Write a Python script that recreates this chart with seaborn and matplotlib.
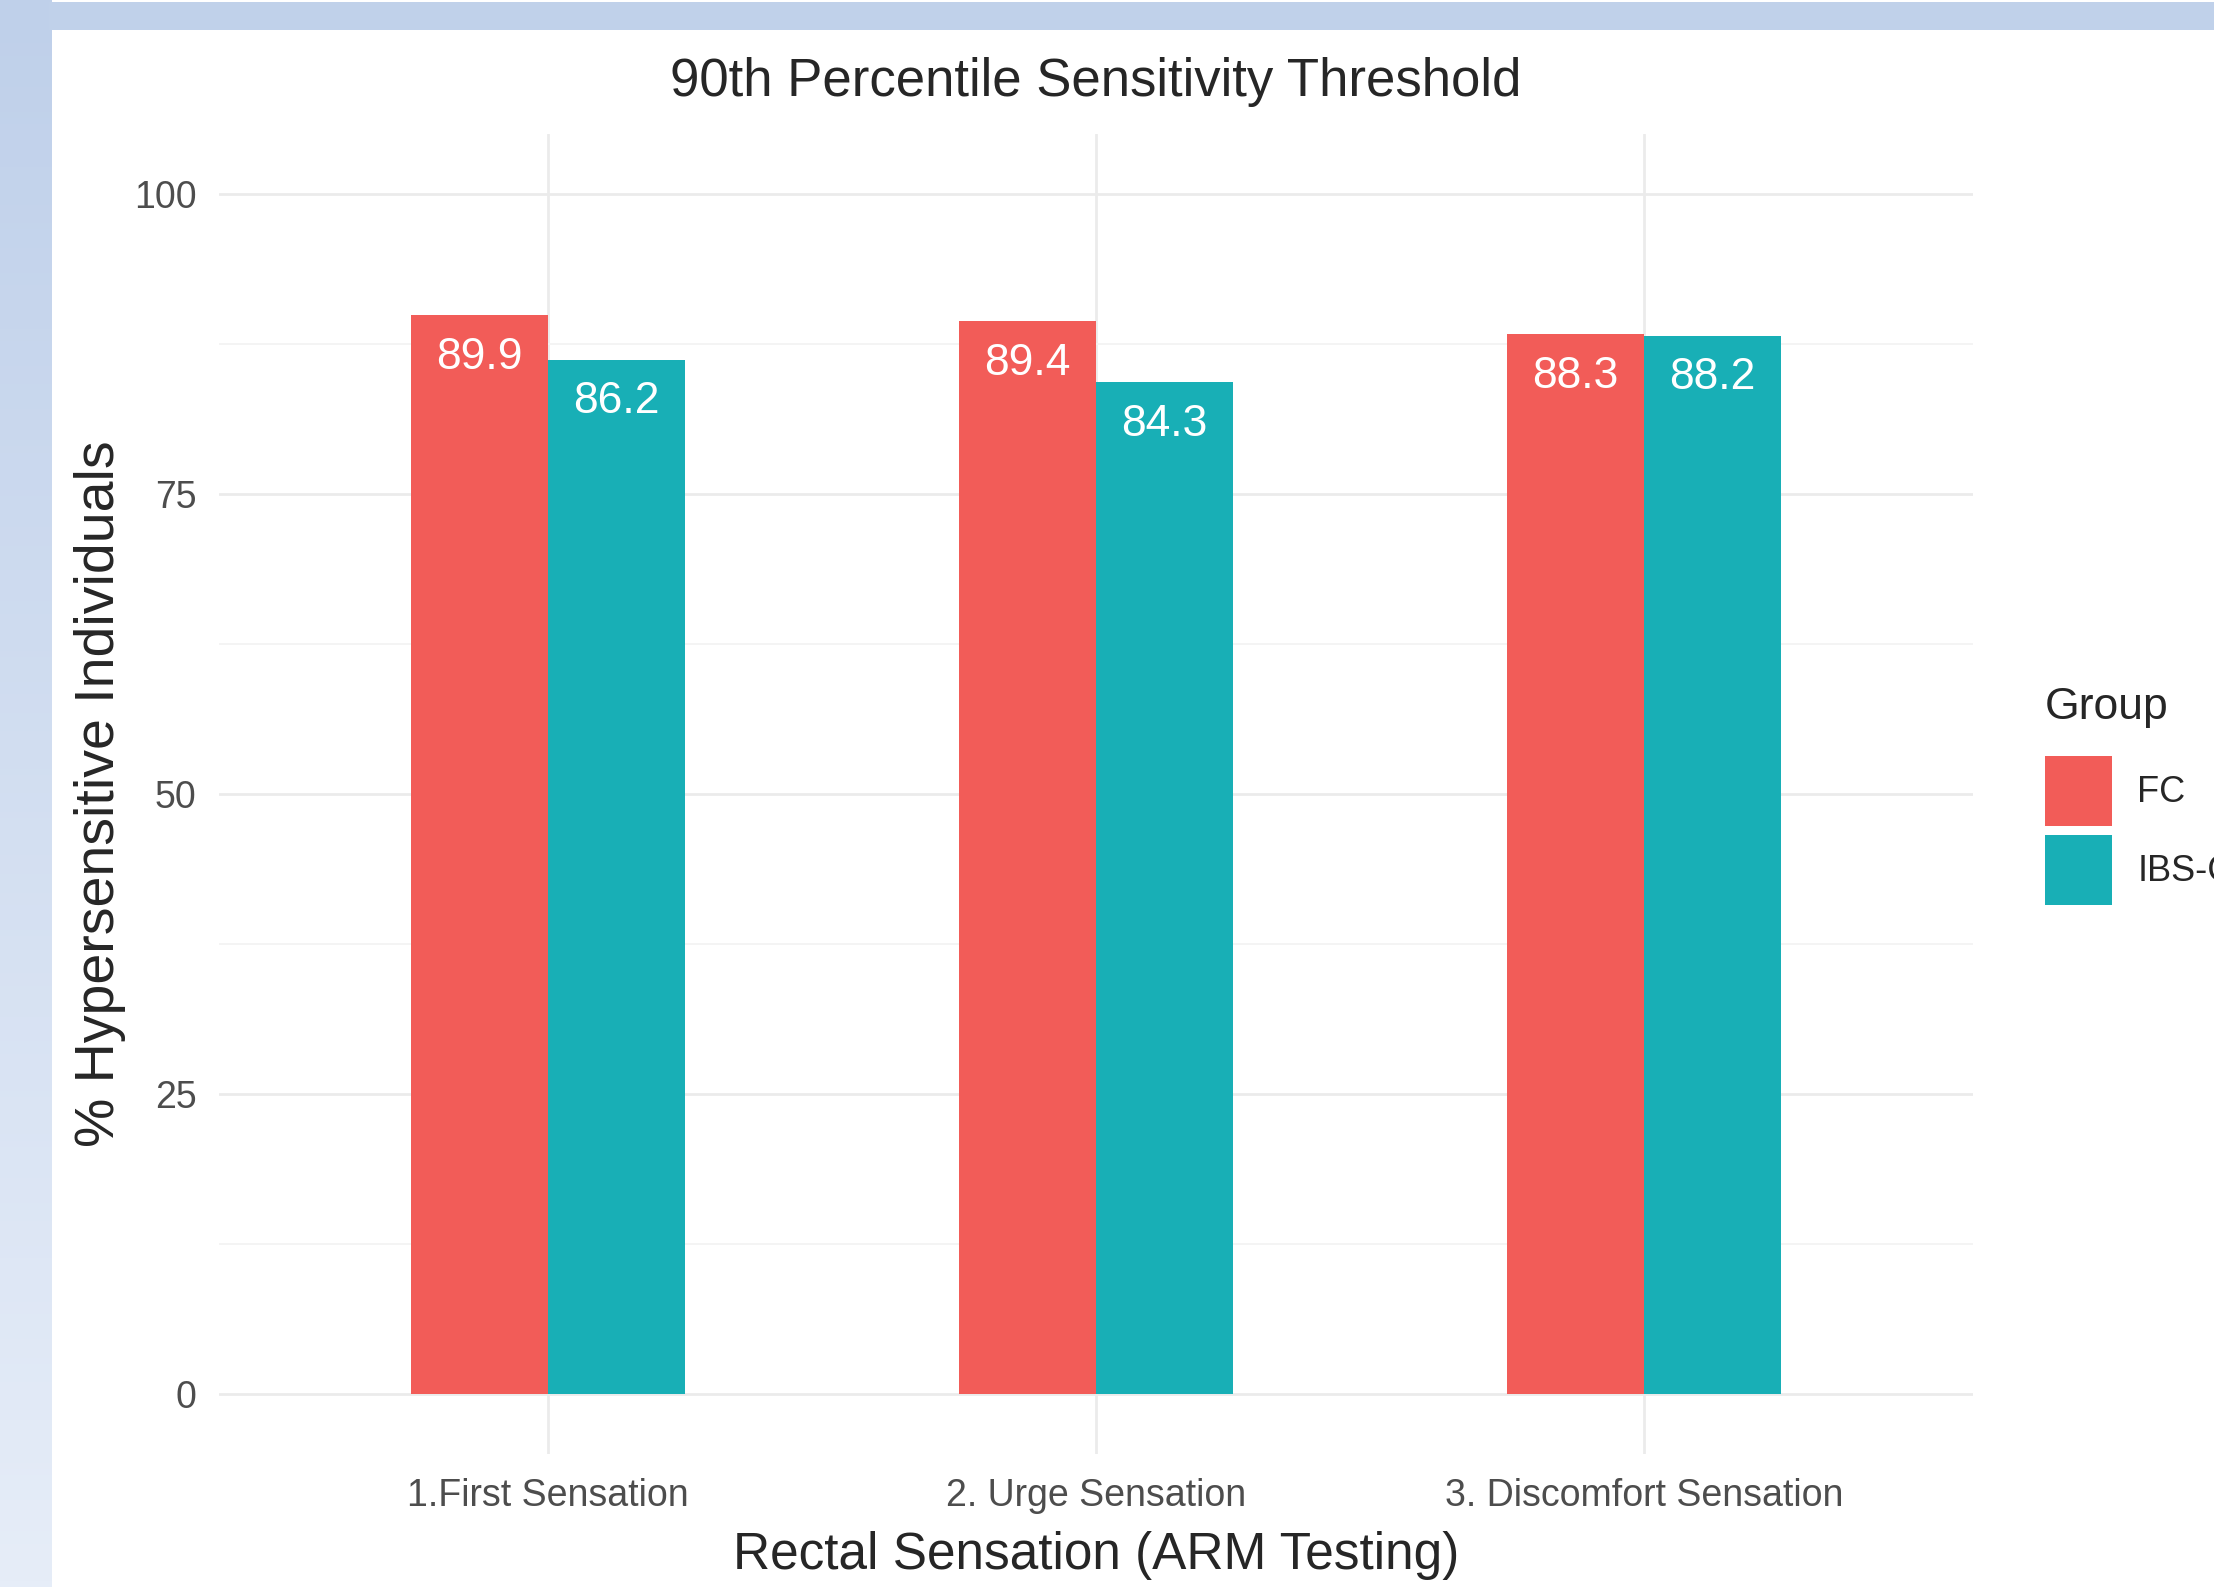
import numpy as np
import pandas as pd
import matplotlib
matplotlib.use("Agg")
import matplotlib.pyplot as plt
from matplotlib.colors import to_rgb
import seaborn as sns

# Data
categories = ["1.First Sensation", "2. Urge Sensation", "3. Discomfort Sensation"]
groups = ["FC", "IBS-C"]
fc_values = [89.9, 89.4, 88.3]
ibs_values = [86.2, 84.3, 88.2]
y_major = [0, 25, 50, 75, 100]
y_minor = [12.5, 37.5, 62.5, 87.5]

df = pd.DataFrame({
    "sensation": categories * 2,
    "Group": [groups[0]] * 3 + [groups[1]] * 3,
    "pct": fc_values + ibs_values,
})

sns.set_style("white")
plt.rcParams["font.family"] = ["Liberation Sans", "DejaVu Sans"]

W, H = 2214, 1587
fig = plt.figure(figsize=(W / 100, H / 100), dpi=100)
fig.patch.set_facecolor("white")

# slide-style frame: gradient strip on the left, flat strip on top
strip = fig.add_axes([0, 0, 52 / W, 1])
top_c = np.array(to_rgb("#BFD0EA"))
bot_c = np.array(to_rgb("#E6EDF8"))
t = np.linspace(0, 1, 256)[:, None]
grad = (top_c[None, :] * (1 - t) + bot_c[None, :] * t)[:, None, :]
strip.imshow(grad, aspect="auto", extent=[0, 1, 0, 1])
strip.axis("off")
fig.add_artist(plt.Rectangle((49 / W, 1 - 30 / H), 1, 28 / H,
                             transform=fig.transFigure, color="#C0D1EA", lw=0))

# panel
left, right, top, bottom = 219, 1973, 134, 1454
ax = fig.add_axes([left / W, 1 - bottom / H, (right - left) / W, (bottom - top) / H])

palette = {"FC": "#F25C58", "IBS-C": "#18AFB6"}
sns.barplot(data=df, x="sensation", y="pct", hue="Group", order=categories,
            hue_order=groups, palette=palette, width=0.5, gap=0, saturation=1,
            linewidth=0, errorbar=None, ax=ax)

ax.set_xlim(-0.6, 2.6)
ax.set_ylim(-5, 105)
ax.set_yticks(y_major)
ax.set_yticks(y_minor, minor=True)
ax.grid(which="major", axis="both", color="#EBEBEB", lw=2.0)
ax.grid(which="minor", axis="y", color="#F3F3F3", lw=1.3)
ax.set_axisbelow(True)
for s in ax.spines.values():
    s.set_visible(False)
ax.tick_params(axis="both", which="both", length=0)
ax.tick_params(axis="y", labelsize=27, labelcolor="#4D4D4D", pad=16)
ax.tick_params(axis="x", labelsize=27, labelcolor="#4D4D4D", pad=17)

# value labels inside the top of each bar
for container in ax.containers:
    ax.bar_label(container, labels=[f"{v:.1f}" for v in container.datavalues],
                 label_type="edge", padding=-45, color="white", fontsize=32)

ax.set_title("90th Percentile Sensitivity Threshold", fontsize=38, y=1.033, va="center")
ax.set_xlabel("Rectal Sensation (ARM Testing)", fontsize=37)
ax.xaxis.set_label_coords(0.5, -0.077)
ax.xaxis.label.set_va("center")
ax.set_ylabel("% Hypersensitive Individuals", fontsize=40)
ax.yaxis.set_label_coords(-0.068, 0.5)
ax.yaxis.label.set_va("center")

leg = ax.legend(title="Group", loc="upper left", bbox_to_anchor=(2045 / W, 1 - 687 / H),
                bbox_transform=fig.transFigure, frameon=False, fontsize=26,
                title_fontsize=32, handlelength=1.86, handleheight=2.6,
                labelspacing=0.25, handletextpad=0.7, borderpad=0, borderaxespad=0,
                alignment="left")
leg._legend_box.sep = 20  # more room between "Group" and the keys

fig.savefig("out.png", dpi=100)
